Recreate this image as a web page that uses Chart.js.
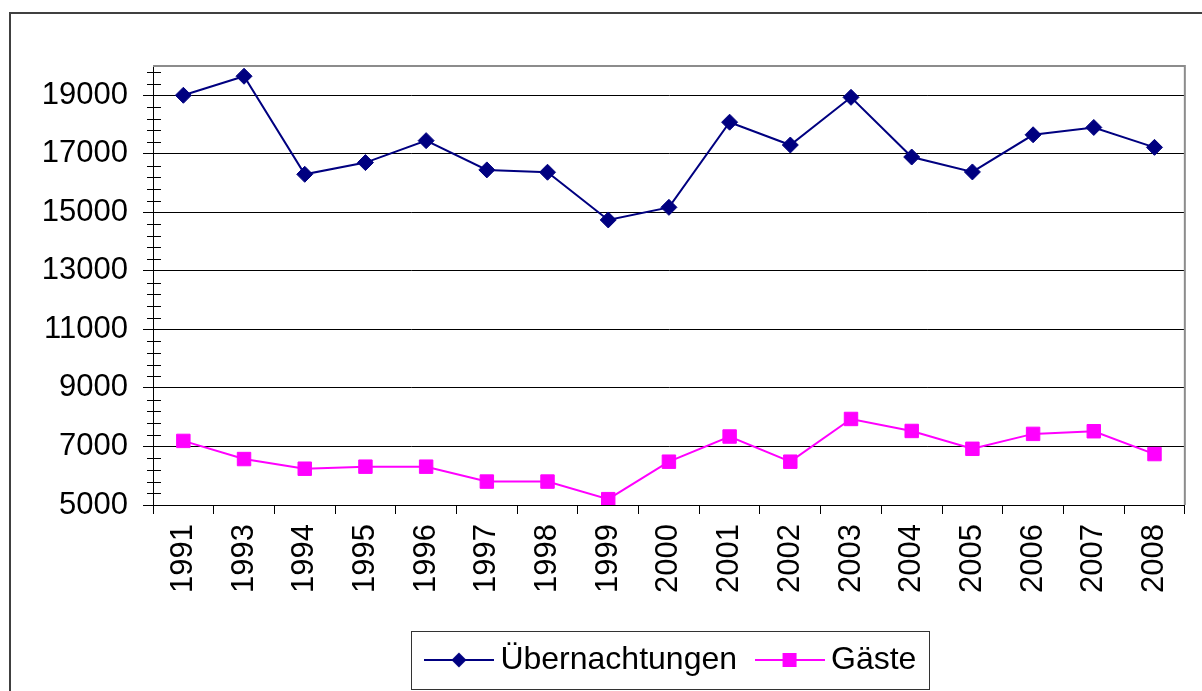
<!DOCTYPE html>
<html>
<head>
<meta charset="utf-8">
<script src="https://cdn.jsdelivr.net/npm/chart.js@4"></script>
<style>
  html, body { margin: 0; padding: 0; background: #fff; overflow: hidden; }
  #frame { position: absolute; left: 9px; top: 12px; width: 1400px; height: 900px; border: 2px solid #404040; }
  #chart { position: absolute; left: 0; top: 0; }
</style>
</head>
<body>
<div id="frame"></div>
<canvas id="chart" width="1202" height="691"></canvas>
<script>
// values
const years = ['1991', '1993', '1994', '1995', '1996', '1997', '1998', '1999', '2000',
               '2001', '2002', '2003', '2004', '2005', '2006', '2007', '2008'];
const uebernachtungen = [19000, 19650, 16300, 16700, 17450, 16450, 16370, 14740, 15170,
                         18080, 17300, 18930, 16890, 16380, 17650, 17900, 17220];
const gaeste = [7190, 6570, 6240, 6310, 6310, 5800, 5800, 5200, 6480,
                7340, 6480, 7940, 7530, 6920, 7430, 7520, 6740];
const yTicks = [5000, 7000, 9000, 11000, 13000, 15000, 17000, 19000];
const yMin = 5000;
const yMax = 20000;
const yMinorStep = 400;

const navy = '#000080';
const magenta = '#ff00ff';

Chart.defaults.font.family = "'Liberation Sans', Arial, sans-serif";
Chart.defaults.font.size = 31;
Chart.defaults.color = '#000';

// line + marker sample used as legend symbol
function legendMarker(color, shape) {
    const cv = document.createElement('canvas');
    cv.width = 70;
    cv.height = 20;
    const g = cv.getContext('2d');
    g.strokeStyle = color;
    g.lineWidth = 2;
    g.beginPath();
    g.moveTo(0, 10);
    g.lineTo(70, 10);
    g.stroke();
    g.fillStyle = color;
    g.beginPath();
    if (shape === 'diamond') {
        g.moveTo(35, 2.5); g.lineTo(42.5, 10); g.lineTo(35, 17.5); g.lineTo(27.5, 10);
    } else {
        g.rect(28, 3, 14, 14);
    }
    g.closePath();
    g.fill();
    return cv;
}
const legendSymbols = [legendMarker(navy, 'diamond'), legendMarker(magenta, 'square')];

const chartDecor = {
    id: 'chartDecor',
    afterLayout(chart) {
        // Excel puts the legend a little right of the plot centre
        chart.legend.left += 6;
        chart.legend.right += 6;
    },
    beforeDatasetsDraw(chart) {
        const {ctx, chartArea: a, scales: {y}} = chart;
        ctx.save();
        // grey frame on top and right of the plot area
        ctx.strokeStyle = '#8c8c8c';
        ctx.lineWidth = 2;
        ctx.beginPath();
        ctx.moveTo(a.left, a.top);
        ctx.lineTo(a.right, a.top);
        ctx.lineTo(a.right, a.bottom);
        ctx.stroke();
        // minor ticks on the value axis
        ctx.strokeStyle = '#000';
        ctx.lineWidth = 1;
        for (let v = yMin; v < yMax; v += yMinorStep) {
            if (yTicks.includes(v)) continue;
            const py = Math.round(y.getPixelForValue(v)) + 0.5;
            ctx.beginPath();
            ctx.moveTo(a.left - 6, py);
            ctx.lineTo(a.left + 8, py);
            ctx.stroke();
        }
        ctx.restore();
    },
    afterDraw(chart) {
        // box around the legend
        const hb = chart.legend.legendHitBoxes;
        if (!hb || !hb.length) return;
        const last = hb[hb.length - 1];
        const left = hb[0].left - 22.5;
        const right = last.left + last.width + 12;
        const mid = hb[0].top + hb[0].height / 2;
        const ctx = chart.ctx;
        ctx.save();
        ctx.strokeStyle = '#333';
        ctx.lineWidth = 1;
        ctx.strokeRect(Math.round(left) + 0.5, Math.round(mid - 29) + 0.5, Math.round(right - left), 58);
        ctx.restore();
    }
};

new Chart(document.getElementById('chart'), {
    type: 'line',
    data: {
        labels: years,
        datasets: [
            {
                label: 'Übernachtungen',
                data: uebernachtungen,
                borderColor: navy,
                backgroundColor: navy,
                borderWidth: 2,
                pointStyle: 'rectRot',
                pointRadius: 8,
                pointBorderWidth: 1,
                fill: false,
                tension: 0
            },
            {
                label: 'Gäste',
                data: gaeste,
                borderColor: magenta,
                backgroundColor: magenta,
                borderWidth: 2,
                pointStyle: 'rect',
                pointRadius: 9.5,
                pointBorderWidth: 1,
                fill: false,
                tension: 0
            }
        ]
    },
    options: {
        responsive: false,
        animation: false,
        devicePixelRatio: 1,
        layout: {
            padding: { top: 66, right: 9, bottom: 5, left: 0 }
        },
        plugins: {
            tooltip: { enabled: false },
            legend: {
                position: 'bottom',
                fullSize: false,
                labels: {
                    usePointStyle: true,
                    pointStyleWidth: 51,
                    padding: 27,
                    color: '#000',
                    font: { size: 32 },
                    generateLabels(chart) {
                        const items = Chart.defaults.plugins.legend.labels.generateLabels(chart);
                        items.forEach((item, i) => {
                            item.pointStyle = legendSymbols[i];
                        });
                        return items;
                    }
                }
            }
        },
        scales: {
            x: {
                type: 'category',
                offset: true,
                afterFit(scale) { scale.height = 112; },
                grid: {
                    offset: true,
                    drawOnChartArea: false,
                    color: '#000',
                    tickLength: 9
                },
                border: { color: '#000', width: 1 },
                ticks: {
                    autoSkip: false,
                    minRotation: 90,
                    maxRotation: 90,
                    padding: 10,
                    color: '#000'
                }
            },
            y: {
                min: yMin,
                max: yMax,
                afterFit(scale) { scale.width = 153; },
                afterBuildTicks(scale) {
                    scale.ticks = yTicks.map(v => ({ value: v }));
                },
                grid: {
                    color: '#000',
                    tickLength: 10
                },
                border: { color: '#000', width: 1 },
                ticks: {
                    padding: 15,
                    color: '#000',
                    callback: v => String(v)
                }
            }
        }
    },
    plugins: [chartDecor]
});
</script>
</body>
</html>
